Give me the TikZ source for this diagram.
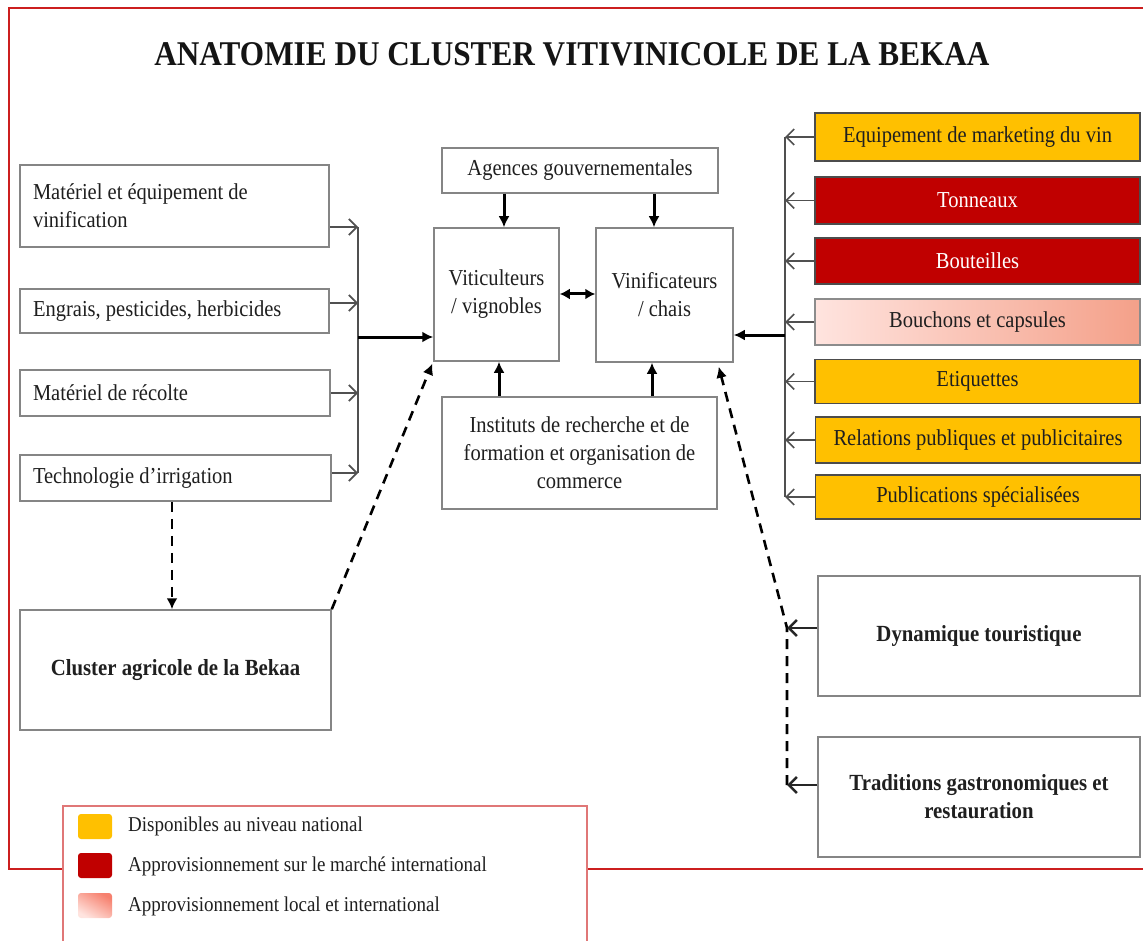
\documentclass[tikz,border=0pt]{standalone}
\usepackage{fontspec}
\setmainfont{Liberation Serif}[FakeStretch=0.9]
\usetikzlibrary{arrows.meta}
\definecolor{org}{HTML}{FFC000}
\definecolor{dred}{HTML}{C00000}
\definecolor{framec}{HTML}{CC1F1F}
\definecolor{bxline}{HTML}{858585}
\definecolor{pinkL}{HTML}{FFE4DF}
\definecolor{pinkR}{HTML}{F4A089}
\definecolor{lgline}{HTML}{E07777}
\definecolor{conn}{HTML}{505050}
\begin{document}
\begin{tikzpicture}[x=1pt,y=-1pt,
  box/.style={draw=bxline, line width=1.5pt, fill=white, inner sep=0pt, text=black!88,
    font=\fontsize{22.8}{28}\selectfont, align=flush center},
  cbox/.style={draw=black!70, line width=1.4pt, inner sep=0pt, minimum width=325pt,
    font=\fontsize{22.8}{28}\selectfont, text=black!88},
  bbox/.style={box, font=\bfseries\fontsize{23.1}{28}\selectfont},
  lbox/.style={box, align=flush left},
  thinarr/.style={draw=conn, line width=1.7pt, -{Straight Barb[length=8pt,width=16pt,line width=1.7pt]}},
  thinline/.style={draw=conn, line width=1.7pt},
  thkarr/.style={draw=black, line width=3pt, -{Latex[length=11pt,width=11pt]}},
  dblarr/.style={draw=black, line width=3pt, {Latex[length=10pt,width=11pt]}-{Latex[length=10pt,width=11pt]}},
  dasharr/.style={draw=black, line width=2.6pt, dash pattern=on 10pt off 7pt, -{Latex[length=11pt,width=11pt]}},
  barbarr/.style={draw=black!85, line width=2.6pt, -{Straight Barb[length=8pt,width=16pt,line width=2.6pt]}},
  swatch/.style={minimum width=34pt, minimum height=25pt, inner sep=0pt, rounded corners=3pt},
  legtxt/.style={anchor=west, inner sep=0pt, font=\fontsize{21.1}{24}\selectfont, text=black!88}
]
\useasboundingbox (0,0) rectangle (1143,941);
% frame
\draw[framec, line width=2.2pt] (63,869) -- (9,869) -- (9,8) -- (1145,8);
\draw[framec, line width=2.2pt] (587,869) -- (1145,869);
% legend box
\draw[lgline, line width=1.6pt] (63,945) -- (63,806) -- (587,806) -- (587,945);

% title
\node[font=\bfseries\fontsize{34.7}{36}\selectfont, inner sep=0pt, text=black!92] (title) at (572,54)
  {ANATOMIE DU CLUSTER VITIVINICOLE DE LA BEKAA};

% left boxes
\node[lbox, minimum width=309pt, minimum height=82pt, text width=283pt] (m1) at (174.5,206)
  {Matériel et équipement de\\vinification};
\node[lbox, minimum width=309pt, minimum height=44pt, text width=283pt] (m2) at (174.5,311)
  {Engrais, pesticides, herbicides};
\node[lbox, minimum width=310pt, minimum height=46pt, text width=284pt] (m3) at (175,393)
  {Matériel de récolte};
\node[lbox, minimum width=311pt, minimum height=46pt, text width=285pt] (m4) at (175.5,478)
  {Technologie d’irrigation};
\node[bbox, minimum width=311pt, minimum height=120pt] (cl) at (175.5,670)
  {Cluster agricole de la Bekaa};

% centre
\node[box, minimum width=276pt, minimum height=45pt] (ag) at (580,170.5) {Agences gouvernementales};
\node[box, minimum width=125pt, minimum height=133pt] (vit) at (496.5,294.5) {Viticulteurs\\/ vignobles};
\node[box, minimum width=137pt, minimum height=134pt] (vin) at (664.5,295) {Vinificateurs\\/ chais};
\node[box, minimum width=275pt, minimum height=112pt] (ins) at (579.5,453)
  {Instituts de recherche et de\\formation et organisation de\\commerce};

% right coloured boxes
\node[cbox, fill=org, minimum height=48pt] (r1) at (977.5,137) {Equipement de marketing du vin};
\node[cbox, fill=dred, minimum height=47pt, text=white] (r2) at (977.5,200.5) {Tonneaux};
\node[cbox, fill=dred, minimum height=46pt, text=white] (r3) at (977.5,261) {Bouteilles};
\node[cbox, left color=pinkL, right color=pinkR, draw=black!45, minimum height=46pt] (r4) at (977.5,322) {Bouchons et capsules};
\node[cbox, fill=org, minimum height=44pt] (r5) at (977.5,381.5) {Etiquettes};
\node[cbox, fill=org, minimum height=46pt] (r6) at (978,440) {Relations publiques et publicitaires};
\node[cbox, fill=org, minimum height=44pt] (r7) at (978,497) {Publications spécialisées};

\node[bbox, minimum width=322pt, minimum height=120pt] (dyn) at (979,636) {Dynamique touristique};
\node[bbox, minimum width=322pt, minimum height=120pt] (tra) at (979,797) {Traditions gastronomiques et\\restauration};

% left bus
\coordinate (lb1) at (358,227);
\coordinate (lb2) at (358,303);
\coordinate (lb3) at (358,393);
\coordinate (lb4) at (358,473);
\coordinate (lbm) at (358,337);
\draw[thinarr] (m1.east |- lb1) -- (lb1);
\draw[thinarr] (m2.east |- lb2) -- (lb2);
\draw[thinarr] (m3.east |- lb3) -- (lb3);
\draw[thinarr] (m4.east |- lb4) -- (lb4);
\draw[thinline] (lb1) -- (lb4);
\draw[thkarr] (lbm) -- (vit.west |- lbm);

% right bus
\coordinate (rb1) at (785,137);
\coordinate (rb7) at (785,497);
\coordinate (rbm) at (785,335);
\foreach \r in {r1,r2,r3,r4,r5,r6,r7} {
  \draw[thinarr] (\r.west) -- (\r.west -| rb1);
}
\draw[thinline] (rb1) -- (rb7);
\draw[thkarr] (rbm) -- (vin.east |- rbm);

% centre arrows
\draw[thkarr] (ag.south -| 504,0) -- (vit.north -| 504,0);
\draw[thkarr] (ag.south -| 654,0) -- (vin.north -| 654,0);
\draw[thkarr] (ins.north -| 499,0) -- (vit.south -| 499,0);
\draw[thkarr] (ins.north -| 652,0) -- (vin.south -| 652,0);
\draw[dblarr] (vit.east |- 0,294) -- (vin.west |- 0,294);

% dashed links
\draw[dasharr] (m4.south -| 172,0) -- (cl.north -| 172,0);
\draw[dasharr] (cl.north east) -- ([xshift=-1pt,yshift=-2pt]vit.south west);
\coordinate (dv1) at (787,628);
\coordinate (dv2) at (787,785);
\draw[dasharr] (dv2) -- (dv1) -- ([xshift=-15pt,yshift=-4pt]vin.south east);
\draw[barbarr] (dyn.west |- dv1) -- (dv1);
\draw[barbarr] (tra.west |- dv2) -- (dv2);

% legend
\node[swatch, fill=org] (s1) at (95,826.5) {};
\node[swatch, fill=dred] (s2) at (95,865.5) {};
\node[swatch, shading=axis, top color=pinkR!80!red, bottom color=pinkL, shading angle=-30] (s3) at (95,905.5) {};
\node[legtxt] (l1) at (128,826) {Disponibles au niveau national};
\node[legtxt] (l2) at (128,866) {Approvisionnement sur le marché international};
\node[legtxt] (l3) at (128,906) {Approvisionnement local et international};
\end{tikzpicture}
\end{document}
